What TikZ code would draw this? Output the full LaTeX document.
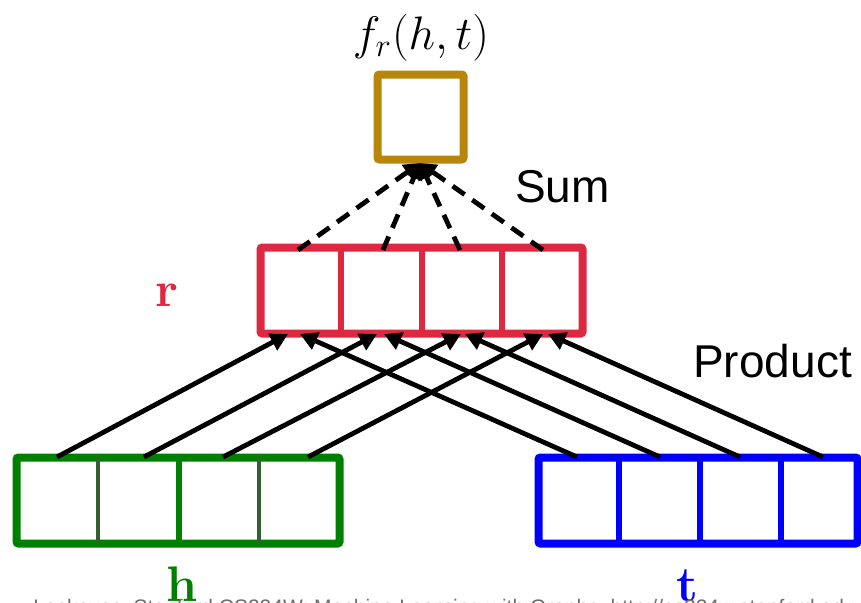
\documentclass[tikz,border=0pt]{standalone}
\usepackage{fontspec}
\newfontfamily\lsans{Liberation Sans}
\usetikzlibrary{arrows.meta}
\definecolor{gold}{RGB}{184,134,11}
\definecolor{rred}{RGB}{220,40,64}
\definecolor{hgreen}{RGB}{0,128,0}
\definecolor{hdark}{RGB}{50,96,50}
\definecolor{tblue}{RGB}{0,0,255}
\definecolor{foot}{RGB}{110,110,110}
\begin{document}
\begin{tikzpicture}[x=0.75pt,y=-0.75pt,
  vecbox/.style={line width=6pt, rounded corners=1.5pt, inner sep=0pt, outer sep=0pt, minimum height=64.5pt},
  cellline/.style={line width=4.2pt},
  thincell/.style={line width=3.2pt},
  prod/.style={line width=3.6pt, -{Triangle[length=13pt,width=13.5pt]}},
  sumarr/.style={line width=3.6pt, dash pattern=on 11pt off 7pt, -{Triangle[length=12pt,width=13pt]}},
  lbl/.style={font=\lsans\fontsize{34.5}{40}\selectfont, anchor=base west, inner sep=0pt},
  vlbl/.style={font=\bfseries\fontsize{37.5}{42}\selectfont, anchor=base, inner sep=0pt}]
\useasboundingbox (0,0) rectangle (861,603);
\clip (0,0) rectangle (861,603);

% boxes
\node[vecbox, draw=gold, minimum width=64.5pt, minimum height=63.75pt] (fbox) at (420.5,117) {};
\node[vecbox, draw=rred, minimum width=241.5pt] (rbox) at (421.5,290.5) {};
\node[vecbox, draw=hgreen, minimum width=242.25pt] (hbox) at (178,500.5) {};
\node[vecbox, draw=tblue, minimum width=239.25pt] (tbox) at (698,500.5) {};

% cell dividers
\draw[cellline, rred] (341,247.5) -- (341,333.5);
\draw[cellline, rred] (422,247.5) -- (422,333.5);
\draw[cellline, rred] (502,247.5) -- (502,333.5);
\draw[thincell, hdark] (98,457.5) -- (98,543.5);
\draw[cellline, hgreen] (179,457.5) -- (179,543.5);
\draw[thincell, hdark] (259,457.5) -- (259,543.5);
\draw[cellline, tblue] (619,457.5) -- (619,543.5);
\draw[cellline, tblue] (700,457.5) -- (700,543.5);
\draw[cellline, tblue] (781,457.5) -- (781,543.5);

% connector end points
\coordinate (h0) at (57,457);
\coordinate (h1) at (144,457);
\coordinate (h2) at (223,457);
\coordinate (h3) at (308,457);
\coordinate (t0) at (577,457);
\coordinate (t1) at (660,457);
\coordinate (t2) at (740,457);
\coordinate (t3) at (823,457);
\coordinate (rh0) at (288,334);
\coordinate (rh1) at (377,334);
\coordinate (rh2) at (461,334);
\coordinate (rh3) at (543,334);
\coordinate (rt0) at (300,334);
\coordinate (rt1) at (384,334);
\coordinate (rt2) at (465,334);
\coordinate (rt3) at (548,334);
\coordinate (r0) at (298,250);
\coordinate (r1) at (383,250);
\coordinate (r2) at (460,250);
\coordinate (r3) at (543,250);
\coordinate (fin) at (420,163);

% product arrows
\draw[prod] (h0) -- (rh0);
\draw[prod] (h1) -- (rh1);
\draw[prod] (h2) -- (rh2);
\draw[prod] (h3) -- (rh3);
\draw[prod] (t0) -- (rt0);
\draw[prod] (t1) -- (rt1);
\draw[prod] (t2) -- (rt2);
\draw[prod] (t3) -- (rt3);

% sum arrows
\draw[sumarr] (r0) -- (fin);
\draw[sumarr] (r1) -- (fin);
\draw[sumarr] (r2) -- (fin);
\draw[sumarr] (r3) -- (fin);

% labels
\node[anchor=base, inner sep=0pt, font=\fontsize{20}{24}\selectfont] (flbl) at (421,49) {\scalebox{1.7}{$f_r(h,t)$}};
\node[lbl] (sumlbl) at (515,202) {Sum};
\node[lbl] (prodlbl) at (693,377) {Product};
\node[vlbl, text=rred] (rlbl) at (167,306) {r};
\node[vlbl, text=hgreen] (hlbl) at (182,601) {h};
\node[vlbl, text=tblue] (tlbl) at (687,601) {t};
\node[anchor=base west, inner sep=0pt, text=foot, font=\lsans\fontsize{15.75}{18}\selectfont] (footer) at (33,614) {Leskovec, Stanford CS224W: Machine Learning with Graphs, http://cs224w.stanford.edu};
\end{tikzpicture}
\end{document}
